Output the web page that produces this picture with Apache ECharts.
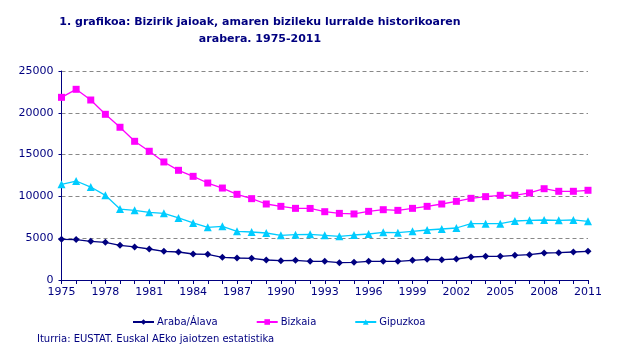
<!DOCTYPE html>
<html><head><meta charset="utf-8">
<script src="https://cdn.jsdelivr.net/npm/echarts@6/dist/echarts.min.js"></script>
<style>html,body{margin:0;padding:0;background:#fff}#c{width:620px;height:357px}</style>
</head><body><div id="c"></div>
<script>
const years = [];
for (let y = 1975; y <= 2011; y++) years.push(String(y));
const araba = [4860,4830,4630,4510,4150,3950,3710,3430,3350,3110,3070,2710,2630,2590,2390,2310,2350,2230,2230,2070,2110,2230,2230,2230,2350,2470,2430,2510,2750,2830,2830,2950,3030,3230,3270,3350,3430];
const bizkaia = [21850,22810,21530,19820,18270,16590,15400,14120,13120,12400,11600,11000,10250,9730,9090,8810,8570,8560,8170,7970,7900,8210,8410,8330,8570,8810,9090,9410,9770,9970,10130,10130,10410,10920,10610,10610,10730];
const gipuzkoa = [11440,11840,11120,10130,8490,8330,8090,7970,7420,6820,6300,6420,5820,5740,5620,5340,5420,5460,5340,5220,5380,5500,5700,5660,5820,5980,6100,6220,6740,6740,6740,7060,7140,7180,7140,7180,7020];
const seriesNames = ['Araba/Álava','Bizkaia','Gipuzkoa'];
const yTicks = [0,5000,10000,15000,20000,25000];

const navy = '#000080';
const font = '"DejaVu Sans", Verdana, sans-serif';
const chart = echarts.init(document.getElementById('c'), null, {renderer:'canvas'});
chart.setOption({
  animation: false,
  backgroundColor: '#fff',
  title: [{
    text: '1. grafikoa: Bizirik jaioak, amaren bizileku lurralde historikoaren\narabera. 1975-2011',
    left: 260, top: 14, textAlign: 'center', padding: 0,
    textStyle: {color: navy, fontFamily: font, fontSize: 11, fontWeight: 'bold', lineHeight: 17}
  }, {
    text: 'Iturria: EUSTAT. Euskal AEko jaiotzen estatistika',
    left: 37, top: 334, padding: 0,
    textStyle: {color: navy, fontFamily: font, fontSize: 10, fontWeight: 'normal'}
  }],
  legend: {
    left: 132, top: 317, itemGap: 38, itemWidth: 21, itemHeight: 7, padding: 0,
    data: seriesNames,
    textStyle: {color: navy, fontFamily: font, fontSize: 10, padding: [0,0,0,-2]}
  },
  grid: {left: 61.5, right: 32, top: 71, bottom: 77},
  xAxis: {
    type: 'category', data: years, boundaryGap: false,
    axisLine: {lineStyle: {color: navy, width: 1}},
    axisTick: {show: true, interval: 0, length: 4, lineStyle: {color: navy}},
    axisLabel: {interval: 2, color: navy, fontFamily: font, fontSize: 11, margin: 7},
    splitLine: {show: false}
  },
  yAxis: {
    type: 'value', min: yTicks[0], max: yTicks[yTicks.length-1], interval: 5000,
    axisLine: {show: true, lineStyle: {color: navy, width: 1}},
    axisTick: {show: true, length: 3, lineStyle: {color: navy}},
    axisLabel: {color: navy, fontFamily: font, fontSize: 11, margin: 8, formatter: v => String(v)},
    splitLine: {show: true, lineStyle: {color: '#888', type: [4,3], width: 1}}
  },
  series: [
    {name: seriesNames[0], type: 'line', data: araba, symbol: 'diamond', symbolSize: 7,
     color: navy, lineStyle: {width: 1.3, color: navy}, itemStyle: {color: navy}},
    {name: seriesNames[1], type: 'line', data: bizkaia, symbol: 'rect', symbolSize: 7,
     color: '#FF00FF', lineStyle: {width: 1.3, color: '#FF00FF'}, itemStyle: {color: '#FF00FF'}},
    {name: seriesNames[2], type: 'line', data: gipuzkoa, symbol: 'triangle', symbolSize: 8,
     color: '#00CCFF', lineStyle: {width: 1.3, color: '#00CCFF'}, itemStyle: {color: '#00CCFF'}}
  ]
});
</script>
</body></html>
